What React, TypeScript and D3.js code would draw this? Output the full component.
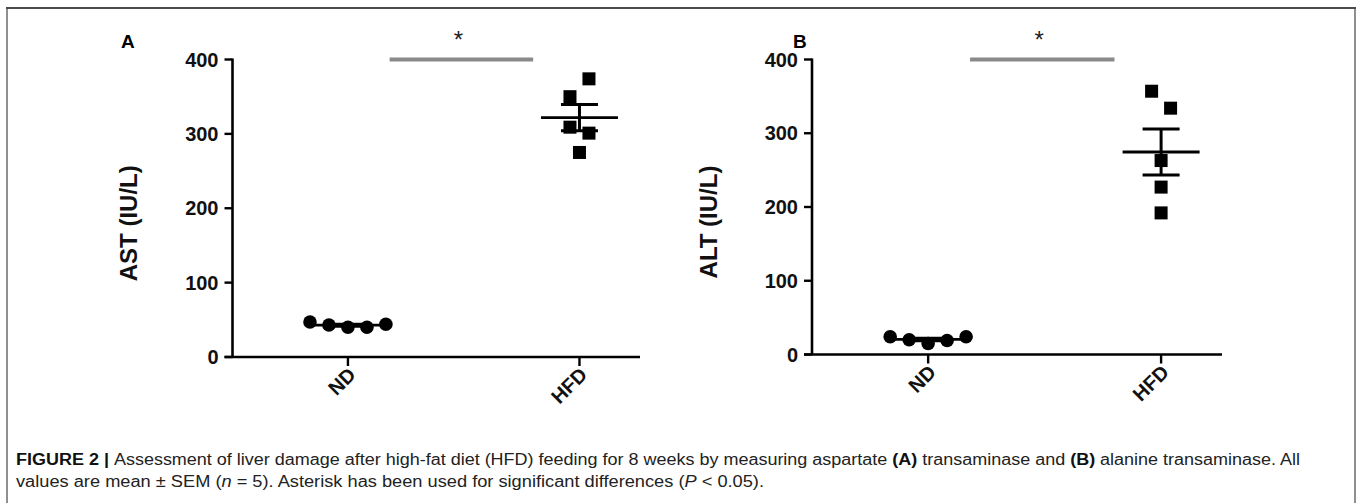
import React from "react";
import * as d3 from "d3";

// ---- data ----
const categories = ["ND", "HFD"];
const astND = [47, 43, 40, 40, 44];
const astHFD = [350, 374, 309, 301, 275];
const altND = [24, 20, 15, 19, 24];
const altHFD = [357, 334, 263, 227, 192];
const yTicks = [0, 100, 200, 300, 400];
const yMax = 400;
const significanceLevel = 400;

const W = 1357;
const H = 503;
const FONT = "'Liberation Sans', Arial, Helvetica, sans-serif";

const panels = [
  { label: "A", yTitle: "AST (IU/L)", nd: astND, hfd: astHFD, axisX: 232.5, xEnd: 640, yBottom: 357, yTop: 59.5, labelX: 121 },
  { label: "B", yTitle: "ALT (IU/L)", nd: altND, hfd: altHFD, axisX: 812, xEnd: 1222, yBottom: 354.5, yTop: 59.5, labelX: 793 },
];

const MARK = 13; // marker size (px)

function meanSem(v: number[]) {
  const m = d3.mean(v) as number;
  const sd = d3.deviation(v) as number;
  return { m, sem: sd / Math.sqrt(v.length) };
}

// simple row-style beeswarm: points closer than a threshold share a row
function swarm(values: number[], y: (v: number) => number, cx: number) {
  const thr = MARK * 1.42;
  const spacing = MARK * 1.46;
  const idx = values.map((_, i) => i).sort((a, b) => y(values[b]) - y(values[a]));
  const clusters: number[][] = [];
  let cur: number[] = [];
  idx.forEach((i, k) => {
    if (k > 0 && Math.abs(y(values[i]) - y(values[idx[k - 1]])) >= thr) {
      clusters.push(cur);
      cur = [];
    }
    cur.push(i);
  });
  if (cur.length) clusters.push(cur);
  const xs = new Array(values.length).fill(cx);
  clusters.forEach((c) => {
    const s = [...c].sort((a, b) => a - b);
    s.forEach((i, k) => {
      xs[i] = cx + (k - (s.length - 1) / 2) * spacing;
    });
  });
  return xs;
}

function Panel({ p }: { p: (typeof panels)[number] }) {
  const y = d3.scaleLinear().domain([0, yMax]).range([p.yBottom, p.yTop]);
  const x = d3.scalePoint<string>().domain(categories).range([p.axisX, p.xEnd]).padding(0.38).align(0.656);
  const groups = [
    { cat: categories[0], vals: p.nd, shape: "circle" },
    { cat: categories[1], vals: p.hfd, shape: "square" },
  ];
  const xND = x(categories[0]) as number;
  const xHFD = x(categories[1]) as number;
  const step = xHFD - xND;
  const barX1 = xND + 0.18 * step;
  const barX2 = xHFD - 0.2 * step;
  const barY = y(significanceLevel);
  const yMid = (p.yBottom + p.yTop) / 2 + 15;

  return (
    <g>
      <text x={p.labelX} y={48} fontFamily={FONT} fontWeight="bold" fontSize={19} fill="#000">
        {p.label}
      </text>
      {/* y title */}
      <text
        transform={`translate(${p.axisX - 103.5},${yMid}) rotate(-90)`}
        textAnchor="middle"
        dy="0.35em"
        fontFamily={FONT}
        fontWeight="bold"
        fontSize={24}
        fill="#111"
      >
        {p.yTitle}
      </text>
      {/* y axis */}
      <line x1={p.axisX} x2={p.axisX} y1={y(0)} y2={y(yMax) - 1} stroke="#000" strokeWidth={2.6} />
      {yTicks.map((t) => (
        <g key={t}>
          <line x1={p.axisX - 8} x2={p.axisX} y1={y(t)} y2={y(t)} stroke="#000" strokeWidth={2.4} />
          <text
            x={p.axisX - 14}
            y={y(t)}
            dy="0.36em"
            textAnchor="end"
            fontFamily={FONT}
            fontWeight="bold"
            fontSize={20}
            fill="#111"
          >
            {t}
          </text>
        </g>
      ))}
      {/* x axis */}
      <line x1={p.axisX - 8} x2={p.xEnd} y1={y(0)} y2={y(0)} stroke="#000" strokeWidth={2.6} />
      {categories.map((c) => {
        const cx = x(c) as number;
        return (
          <g key={c}>
            <line x1={cx} x2={cx} y1={y(0)} y2={y(0) + 9} stroke="#000" strokeWidth={2.4} />
            <text
              transform={`translate(${cx + 9},${y(0) + 19}) rotate(-45)`}
              textAnchor="end"
              fontFamily={FONT}
              fontWeight="bold"
              fontSize={20}
              fill="#111"
            >
              {c}
            </text>
          </g>
        );
      })}
      {/* significance */}
      <line x1={barX1} x2={barX2} y1={barY} y2={barY} stroke="#8a8a8a" strokeWidth={4} />
      <text
        x={(barX1 + barX2) / 2 - 3}
        y={barY - 12}
        textAnchor="middle"
        fontFamily={FONT}
        fontSize={24}
        fill="#222"
      >
        *
      </text>
      {/* groups */}
      {groups.map((g) => {
        const cx = x(g.cat) as number;
        const { m, sem } = meanSem(g.vals);
        const xs = swarm(g.vals, y, cx);
        return (
          <g key={g.cat}>
            {g.vals.map((v, i) =>
              g.shape === "circle" ? (
                <circle key={i} cx={xs[i]} cy={y(v)} r={MARK / 2 + 0.3} fill="#000" />
              ) : (
                <rect key={i} x={xs[i] - MARK / 2} y={y(v) - MARK / 2} width={MARK} height={MARK} fill="#000" />
              )
            )}
            <line x1={cx - 38.5} x2={cx + 38.5} y1={y(m)} y2={y(m)} stroke="#000" strokeWidth={2.8} />
            <line x1={cx} x2={cx} y1={y(m - sem)} y2={y(m + sem)} stroke="#000" strokeWidth={3} />
            <line x1={cx - 18.5} x2={cx + 18.5} y1={y(m + sem)} y2={y(m + sem)} stroke="#000" strokeWidth={3} />
            <line x1={cx - 18.5} x2={cx + 18.5} y1={y(m - sem)} y2={y(m - sem)} stroke="#000" strokeWidth={3} />
          </g>
        );
      })}
    </g>
  );
}

export default function App() {
  const capFont = "'Liberation Sans Narrow', 'Liberation Sans', Arial, sans-serif";
  return (
    <svg
      width={W}
      height={H}
      viewBox={`0 0 ${W} ${H}`}
      style={{ position: "absolute", left: 0, top: 0, background: "#fff" }}
    >
      <rect x={0} y={0} width={W} height={H} fill="#fff" />
      {/* frame */}
      <line x1={7} x2={7} y1={8} y2={H} stroke="#8f8f8f" strokeWidth={2} />
      <line x1={1355} x2={1355} y1={8} y2={H} stroke="#8f8f8f" strokeWidth={2} />
      <line x1={6} x2={1356} y1={8} y2={8} stroke="#4a4a4a" strokeWidth={2} />
      {panels.map((p) => (
        <Panel key={p.label} p={p} />
      ))}
      {/* caption */}
      <text x={16} y={465} fontFamily={capFont} fontSize={16} fill="#222" textLength={1284} lengthAdjust="spacingAndGlyphs">
        <tspan fontWeight="bold" fill="#111">{"FIGURE 2 | "}</tspan>
        <tspan>{"Assessment of liver damage after high-fat diet (HFD) feeding for 8 weeks by measuring aspartate "}</tspan>
        <tspan fontWeight="bold" fill="#111">{"(A)"}</tspan>
        <tspan>{" transaminase and "}</tspan>
        <tspan fontWeight="bold" fill="#111">{"(B)"}</tspan>
        <tspan>{" alanine transaminase. All"}</tspan>
      </text>
      <text x={16} y={487} fontFamily={capFont} fontSize={16} fill="#222" textLength={748} lengthAdjust="spacingAndGlyphs">
        <tspan>{"values are mean \u00B1 SEM ("}</tspan>
        <tspan fontStyle="italic">{"n"}</tspan>
        <tspan>{" = 5). Asterisk has been used for significant differences ("}</tspan>
        <tspan fontStyle="italic">{"P"}</tspan>
        <tspan>{" < 0.05)."}</tspan>
      </text>
    </svg>
  );
}
